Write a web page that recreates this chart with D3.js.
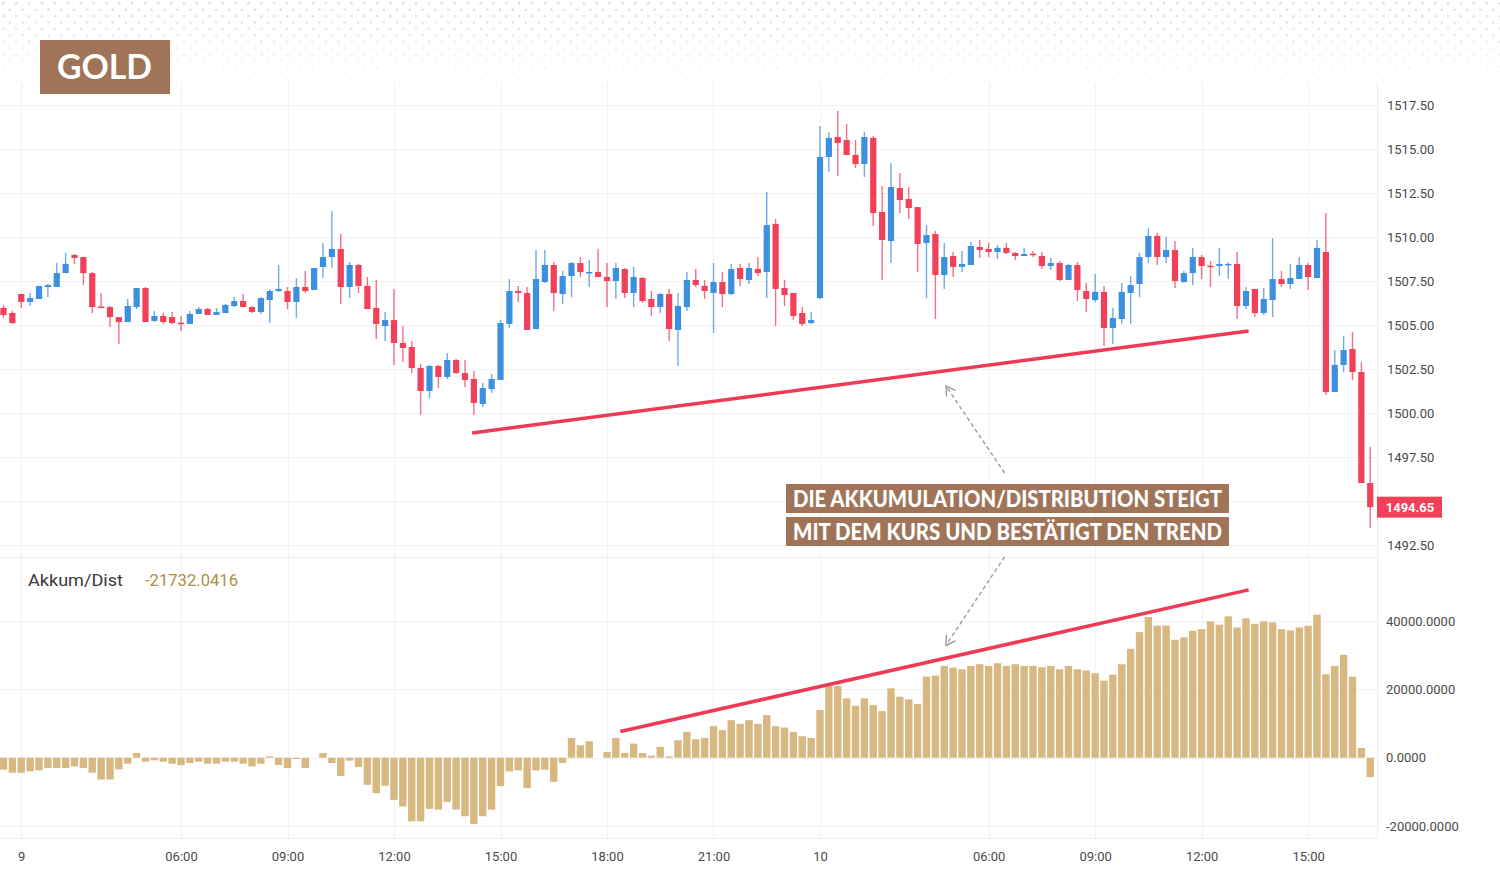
<!DOCTYPE html>
<html>
<head>
<meta charset="utf-8">
<script src="https://cdn.jsdelivr.net/npm/d3@7"></script>
<style>
  body { margin: 0; background: #fff; }
  svg { display: block; font-family: Roboto, "Noto Sans", sans-serif; }
</style>
</head>
<body>
<script>
var width = 1500
var height = 880

// 15 minute candles
var opens = [
  1505.97, 1505.68, 1506.76, 1506.31, 1506.48, 1507.16, 1507.16, 1507.95, 1508.98, 1508.86,
  1507.95, 1506.05, 1506.02, 1505.45, 1505.17, 1506.02, 1507.10, 1505.23, 1505.51, 1505.45,
  1505.13, 1505.06, 1505.63, 1505.91, 1505.57, 1505.68, 1506.08, 1506.36, 1506.02, 1505.74,
  1506.42, 1506.93, 1506.93, 1506.31, 1507.16, 1506.99, 1508.30, 1508.86, 1509.32, 1507.16,
  1508.41, 1507.22, 1505.97, 1504.94, 1505.28, 1503.98, 1503.75, 1502.56, 1501.25, 1502.67,
  1502.05, 1503.01, 1502.27, 1501.93, 1500.51, 1501.36, 1501.88, 1505.06, 1506.93, 1506.82,
  1504.77, 1507.44, 1508.41, 1506.76, 1507.78, 1508.52, 1507.99, 1508.01, 1507.73, 1507.50,
  1508.18, 1506.82, 1507.67, 1506.48, 1506.02, 1506.76, 1504.72, 1506.02, 1507.56, 1507.22,
  1506.82, 1507.44, 1506.76, 1508.24, 1507.56, 1508.18, 1508.01, 1510.74, 1507.10, 1506.82,
  1505.68, 1505.11, 1506.53, 1514.55, 1515.68, 1515.51, 1514.66, 1514.15, 1515.63, 1511.42,
  1509.77, 1512.78, 1512.16, 1511.70, 1509.66, 1510.17, 1507.84, 1508.92, 1508.30, 1508.41,
  1509.43, 1509.32, 1509.15, 1509.38, 1509.09, 1508.92, 1509.05, 1508.92, 1508.35, 1508.52,
  1507.56, 1508.41, 1506.93, 1506.42, 1506.88, 1504.83, 1505.34, 1506.82, 1507.33, 1508.86,
  1510.06, 1508.86, 1509.26, 1507.44, 1507.95, 1508.86, 1508.37, 1508.35, 1508.45, 1508.47,
  1506.08, 1507.05, 1505.68, 1506.42, 1507.61, 1507.33, 1507.61, 1508.41, 1507.67, 1509.15,
  1501.19, 1502.73, 1503.64, 1502.33, 1496.02]
var highs = [
  1506.14, 1505.80, 1506.76, 1506.82, 1507.22, 1507.33, 1508.52, 1509.09, 1509.03, 1508.86,
  1508.01, 1506.82, 1506.08, 1505.45, 1506.48, 1507.10, 1507.16, 1505.80, 1505.68, 1505.74,
  1505.51, 1505.80, 1506.02, 1505.97, 1505.97, 1506.19, 1506.59, 1506.76, 1506.08, 1506.59,
  1507.05, 1508.41, 1507.16, 1507.67, 1508.07, 1508.24, 1509.66, 1511.48, 1510.17, 1508.58,
  1508.47, 1507.73, 1507.56, 1505.74, 1507.05, 1504.94, 1504.09, 1502.78, 1502.73, 1502.73,
  1503.41, 1503.07, 1503.01, 1502.39, 1501.70, 1502.22, 1505.28, 1507.61, 1507.22, 1507.16,
  1509.26, 1509.26, 1508.58, 1508.07, 1508.58, 1508.86, 1508.69, 1509.32, 1508.52, 1508.52,
  1508.24, 1508.30, 1507.73, 1506.93, 1506.82, 1507.05, 1506.82, 1508.01, 1508.18, 1507.56,
  1508.52, 1508.01, 1508.47, 1508.47, 1508.52, 1508.86, 1512.56, 1511.02, 1507.56, 1506.82,
  1506.02, 1505.74, 1516.31, 1515.97, 1517.16, 1516.42, 1515.51, 1515.97, 1515.74, 1512.90,
  1514.20, 1513.64, 1512.84, 1511.70, 1510.68, 1510.34, 1509.66, 1509.15, 1509.20, 1509.72,
  1509.83, 1509.66, 1509.55, 1509.66, 1509.15, 1509.38, 1509.20, 1509.15, 1508.81, 1508.64,
  1508.47, 1508.58, 1507.39, 1507.90, 1507.22, 1505.97, 1507.39, 1507.78, 1509.09, 1510.51,
  1510.23, 1510.00, 1509.77, 1508.07, 1509.38, 1508.98, 1508.64, 1509.38, 1508.58, 1509.15,
  1507.16, 1507.05, 1507.10, 1509.94, 1508.07, 1508.47, 1508.86, 1508.52, 1509.83, 1511.36,
  1503.58, 1504.38, 1504.60, 1502.90, 1498.07]
var lows = [
  1505.40, 1505.06, 1505.97, 1506.08, 1506.48, 1506.59, 1507.16, 1507.95, 1508.47, 1507.27,
  1505.68, 1506.02, 1504.89, 1503.92, 1505.17, 1505.91, 1505.17, 1505.17, 1505.06, 1505.06,
  1504.66, 1505.06, 1505.63, 1505.57, 1505.57, 1505.68, 1506.02, 1506.02, 1505.68, 1505.63,
  1505.11, 1506.88, 1505.91, 1505.40, 1506.82, 1506.99, 1507.67, 1508.24, 1506.19, 1506.53,
  1506.82, 1505.91, 1504.20, 1504.09, 1502.73, 1502.90, 1502.27, 1499.89, 1500.85, 1501.42,
  1501.93, 1502.22, 1501.48, 1499.89, 1500.34, 1501.14, 1501.88, 1504.83, 1506.31, 1504.72,
  1504.77, 1507.39, 1505.80, 1506.19, 1506.59, 1507.73, 1507.16, 1507.73, 1506.02, 1506.48,
  1506.53, 1506.02, 1506.25, 1505.51, 1505.68, 1504.09, 1502.67, 1505.80, 1507.16, 1506.48,
  1504.55, 1506.02, 1506.70, 1507.22, 1507.33, 1507.78, 1506.53, 1504.94, 1506.08, 1505.28,
  1504.94, 1505.06, 1506.48, 1513.69, 1513.47, 1514.66, 1513.92, 1513.41, 1510.63, 1507.56,
  1508.52, 1511.36, 1511.02, 1508.01, 1506.53, 1505.34, 1507.05, 1507.73, 1508.01, 1508.41,
  1508.81, 1508.86, 1508.75, 1509.03, 1508.69, 1508.92, 1508.86, 1508.18, 1508.13, 1507.50,
  1507.56, 1506.36, 1505.74, 1506.31, 1503.81, 1503.92, 1505.06, 1505.06, 1506.59, 1508.52,
  1508.41, 1508.52, 1507.10, 1507.39, 1507.27, 1507.61, 1507.16, 1507.78, 1507.61, 1505.34,
  1505.91, 1505.45, 1505.57, 1505.45, 1507.16, 1507.05, 1507.61, 1506.99, 1507.67, 1501.02,
  1501.19, 1502.33, 1501.88, 1496.02, 1493.47]
var closes = [
  1505.57, 1505.11, 1506.31, 1506.53, 1507.22, 1507.27, 1507.95, 1508.47, 1508.81, 1507.95,
  1506.02, 1506.02, 1505.45, 1505.17, 1506.08, 1507.10, 1505.17, 1505.51, 1505.17, 1505.11,
  1505.11, 1505.63, 1505.91, 1505.57, 1505.74, 1506.14, 1506.36, 1506.02, 1505.74, 1506.53,
  1506.93, 1507.05, 1506.31, 1507.16, 1506.93, 1508.24, 1508.86, 1509.32, 1507.16, 1508.41,
  1507.22, 1505.91, 1505.06, 1505.28, 1503.98, 1503.69, 1502.56, 1501.25, 1502.67, 1502.05,
  1503.01, 1502.27, 1501.88, 1500.57, 1501.42, 1501.93, 1505.11, 1506.93, 1506.82, 1504.72,
  1507.61, 1508.41, 1506.82, 1507.78, 1508.52, 1508.01, 1508.01, 1507.73, 1507.50, 1508.24,
  1506.82, 1507.73, 1506.36, 1506.02, 1506.76, 1504.77, 1506.08, 1507.56, 1507.27, 1506.93,
  1507.44, 1506.76, 1508.18, 1507.61, 1508.24, 1507.95, 1510.68, 1507.05, 1506.70, 1505.51,
  1505.06, 1505.28, 1514.55, 1515.63, 1515.34, 1514.66, 1514.15, 1515.68, 1511.36, 1509.83,
  1512.84, 1512.10, 1511.65, 1509.60, 1510.11, 1507.84, 1508.86, 1508.30, 1508.47, 1509.49,
  1509.26, 1509.15, 1509.38, 1509.09, 1508.92, 1509.03, 1509.03, 1508.35, 1508.52, 1507.56,
  1508.41, 1506.99, 1506.48, 1506.88, 1504.83, 1505.40, 1506.88, 1507.27, 1508.86, 1510.06,
  1508.86, 1509.26, 1507.50, 1507.95, 1508.86, 1508.35, 1508.35, 1508.47, 1508.47, 1506.08,
  1506.93, 1505.68, 1506.48, 1507.61, 1507.33, 1507.67, 1508.41, 1507.73, 1509.38, 1501.19,
  1502.73, 1503.58, 1502.33, 1496.02, 1494.65]

// Akkumulation/Distribution histogram
var adValues = [
  -3530, -4410, -4410, -4020, -3720, -3040, -3040, -3040, -2550, -3040,
  -4410, -6370, -6370, -3430, -1760, 1370, -1180, -780, -1180, -1760,
  -2160, -1570, -1180, -1760, -1760, -1180, -1180, -1760, -2550, -1760,
  390, -2160, -3040, -390, -3040, 0, 1370, -1570, -5390, -880,
  -2740, -7940, -10390, -8230, -12350, -14310, -18620, -18620, -14990, -15190,
  -12940, -15190, -17150, -19400, -17150, -15190, -8330, -4020, -3720, -8920,
  -3720, -3530, -7060, -1570, 5780, 3630, 4800, 0, 1670, 5780,
  1370, 4120, 1370, 590, 3140, 390, 5100, 7550, 5390, 5780,
  9210, 8040, 10980, 9900, 10980, 9900, 12450, 9210, 8820, 7550,
  6270, 5780, 13920, 20970, 20970, 17350, 15190, 17350, 15390, 13620,
  20290, 17840, 17050, 15680, 23720, 24010, 26850, 26360, 25870, 26850,
  27340, 26850, 27640, 26850, 27340, 26850, 26850, 26460, 26850, 25870,
  26850, 25870, 25480, 24700, 22540, 24300, 27340, 31850, 36750, 41160,
  38610, 38610, 34500, 35180, 37140, 37630, 39890, 38910, 41360, 38120,
  40770, 39200, 39890, 39590, 37630, 37240, 38120, 38610, 41850, 24400,
  26850, 30090, 23720, 2840, -5680]

var xTickIndex = [2, 20, 32, 44, 56, 68, 80, 92, 111, 123, 135, 147]
var xTickLabels = ["9", "06:00", "09:00", "12:00", "15:00", "18:00", "21:00", "10", "06:00", "09:00", "12:00", "15:00"]
var priceTicks = [1492.5, 1495, 1497.5, 1500, 1502.5, 1505, 1507.5, 1510, 1512.5, 1515, 1517.5]
var adTicks = [-20000, 0, 20000, 40000]
var lastPrice = 1494.65
var adLegend = "-21732.0416"

// trend lines drawn on the chart: [bar index, value]
var priceTrend = [[52.8, 1498.86], [140.3, 1504.66]]
var adTrend = [[69.5, 7650], [140.3, 49100]]
// dashed pointers from the caption
var arrowUp = [[112.8, 1496.59], [106.2, 1501.53]]
var arrowDown = [[112.8, 58800], [106.2, 32900]]

var upColor = "#3d8fe0"
var downColor = "#f1405a"
var adColor = "#d7b880"
var brown = "#a07458"

var plotRight = 1377
var priceTop = 83, priceBottom = 557
var adTop = 557, adBottom = 838

var svg = d3.select("body").append("svg")
    .attr("width", width)
    .attr("height", height);

var x = d3.scaleLinear().domain([0, 154]).range([3.5, 1370.25]);
var yPrice = d3.scaleLinear().domain([1492.5, 1517.5]).range([545, 105]);
var yAd = d3.scaleLinear().domain([-20000, 40000]).range([826, 621]);

//dotted header
var defs = svg.append("defs");
var pat = defs.append("pattern")
    .attr("id", "dots")
    .attr("patternUnits", "userSpaceOnUse")
    .attr("width", 12.9).attr("height", 12.8);
pat.append("circle").attr("cx", 3.3).attr("cy", 3.3).attr("r", 1.15).attr("fill", "#cfcfcf");
pat.append("circle").attr("cx", 9.75).attr("cy", 9.7).attr("r", 1.15).attr("fill", "#cfcfcf");

var grad = defs.append("linearGradient")
    .attr("id", "fade").attr("x1", 0).attr("y1", 0).attr("x2", 0).attr("y2", 1);
grad.append("stop").attr("offset", "0%").attr("stop-color", "#fff").attr("stop-opacity", 1);
grad.append("stop").attr("offset", "100%").attr("stop-color", "#fff").attr("stop-opacity", 0);
defs.append("mask").attr("id", "fadeMask")
    .attr("maskContentUnits", "userSpaceOnUse")
  .append("rect")
    .attr("x", 0).attr("y", 0).attr("width", width).attr("height", 92)
    .attr("fill", "url(#fade)");

svg.append("rect")
    .attr("x", 0).attr("y", 0).attr("width", width).attr("height", 92)
    .attr("fill", "url(#dots)")
    .attr("mask", "url(#fadeMask)");

// markers for the pointers
defs.append("marker")
    .attr("id", "chevron")
    .attr("viewBox", "-10 -6 12 12")
    .attr("refX", 0).attr("refY", 0)
    .attr("markerWidth", 12).attr("markerHeight", 12)
    .attr("markerUnits", "userSpaceOnUse")
    .attr("orient", "auto")
  .append("path")
    .attr("d", "M-9,-5.5L0,0L-9,5.5")
    .attr("fill", "none")
    .attr("stroke", "#9a9a9a")
    .attr("stroke-width", 1.4);

// grid
var grid = svg.append("g").attr("stroke", "#f1f1f1").attr("stroke-width", 1);
grid.selectAll(".hp").data(priceTicks).enter().append("line")
    .attr("x1", 0).attr("x2", plotRight)
    .attr("y1", function(d) { return Math.round(yPrice(d)) + 0.5; })
    .attr("y2", function(d) { return Math.round(yPrice(d)) + 0.5; });
grid.selectAll(".ha").data(adTicks).enter().append("line")
    .attr("x1", 0).attr("x2", plotRight)
    .attr("y1", function(d) { return Math.round(yAd(d)) + 0.5; })
    .attr("y2", function(d) { return Math.round(yAd(d)) + 0.5; });
grid.selectAll(".v").data(xTickIndex).enter().append("line")
    .attr("x1", function(d) { return Math.round(x(d)) + 0.5; })
    .attr("x2", function(d) { return Math.round(x(d)) + 0.5; })
    .attr("y1", priceTop).attr("y2", adBottom);

svg.append("line")
    .attr("x1", 0).attr("x2", plotRight).attr("y1", adTop + 0.5).attr("y2", adTop + 0.5)
    .attr("stroke", "#ececec");
svg.append("line")
    .attr("x1", 0).attr("x2", plotRight).attr("y1", adBottom + 0.5).attr("y2", adBottom + 0.5)
    .attr("stroke", "#ececec");
svg.append("line")
    .attr("x1", plotRight + 0.5).attr("x2", plotRight + 0.5).attr("y1", priceTop).attr("y2", adBottom)
    .attr("stroke", "#ececec");

// candles
var candles = d3.range(opens.length).map(function(i) {
  return {i: i, o: opens[i], h: highs[i], l: lows[i], c: closes[i]};
});

var candle = svg.append("g").attr("class", "candles")
    .selectAll("g")
    .data(candles)
    .enter().append("g");

candle.append("line")
    .attr("x1", function(d) { return x(d.i); })
    .attr("x2", function(d) { return x(d.i); })
    .attr("y1", function(d) { return yPrice(d.h); })
    .attr("y2", function(d) { return yPrice(d.l); })
    .attr("stroke", function(d) { return d.c >= d.o ? upColor : downColor; })
    .attr("stroke-opacity", 0.75)
    .attr("stroke-width", 1.4);

candle.append("rect")
    .attr("x", function(d) { return x(d.i) - 3.1; })
    .attr("width", 6.2)
    .attr("y", function(d) { return yPrice(Math.max(d.o, d.c)); })
    .attr("height", function(d) { return Math.max(1.5, Math.abs(yPrice(d.o) - yPrice(d.c))); })
    .attr("fill", function(d) { return d.c >= d.o ? upColor : downColor; });

// A/D histogram
svg.append("g").attr("class", "ad")
    .selectAll("rect")
    .data(adValues)
    .enter().append("rect")
    .attr("x", function(d, i) { return x(i) - 3.7; })
    .attr("width", 7.4)
    .attr("y", function(d) { return Math.min(yAd(d), yAd(0)); })
    .attr("height", function(d) { return Math.abs(yAd(d) - yAd(0)); })
    .attr("fill", adColor);

// trend lines
var line = function(scaleY) {
  return d3.line().x(function(d) { return x(d[0]); }).y(function(d) { return scaleY(d[1]); });
};
svg.append("path").datum(priceTrend)
    .attr("d", line(yPrice))
    .attr("stroke", "#ee3a55").attr("stroke-width", 3.5).attr("fill", "none");
svg.append("path").datum(adTrend)
    .attr("d", line(yAd))
    .attr("stroke", "#ee3a55").attr("stroke-width", 3.5).attr("fill", "none");

// pointers
svg.append("path").datum(arrowUp)
    .attr("d", line(yPrice))
    .attr("stroke", "#9a9a9a").attr("stroke-width", 1.4).attr("stroke-dasharray", "4,3")
    .attr("fill", "none").attr("marker-end", "url(#chevron)");
svg.append("path").datum(arrowDown)
    .attr("d", line(yAd))
    .attr("stroke", "#9a9a9a").attr("stroke-width", 1.4).attr("stroke-dasharray", "4,3")
    .attr("fill", "none").attr("marker-end", "url(#chevron)");

// caption
var caption = ["DIE AKKUMULATION/DISTRIBUTION STEIGT", "MIT DEM KURS UND BESTÄTIGT DEN TREND"];
var capG = svg.append("g").selectAll("g").data(caption).enter().append("g")
    .attr("transform", function(d, i) { return "translate(786," + (484 + i * 33) + ")"; });
capG.append("rect")
    .attr("width", 443).attr("height", 29).attr("fill", brown);
capG.append("text")
    .attr("x", 7).attr("y", 22.5)
    .attr("textLength", 429).attr("lengthAdjust", "spacingAndGlyphs")
    .attr("fill", "#fff")
    .style("font-family", "Lato, 'Noto Sans', sans-serif")
    .style("font-weight", 900)
    .style("font-size", "22px")
    .text(function(d) { return d; });

// GOLD tag
svg.append("rect").attr("x", 40).attr("y", 40).attr("width", 130).attr("height", 54).attr("fill", brown);
svg.append("text")
    .attr("x", 57).attr("y", 78.5)
    .attr("textLength", 95).attr("lengthAdjust", "spacingAndGlyphs")
    .attr("fill", "#fff")
    .style("font-family", "Lato, 'Noto Sans', sans-serif")
    .style("font-weight", 700)
    .style("font-size", "34px")
    .text("GOLD");

// axes; the price label under the last price tag is hidden, as on the chart
var hyphen = function(f) { return function(d) { return f(d).replace("\u2212", "-"); }; };
var priceLabels = priceTicks.filter(function(d) { return Math.abs(yPrice(d) - yPrice(lastPrice)) > 14; });
var priceAxis = svg.append("g")
    .attr("transform", "translate(" + plotRight + ",0)")
    .call(d3.axisRight(yPrice).tickValues(priceLabels).tickFormat(d3.format(".2f")).tickSize(0).tickPadding(10));
var adAxis = svg.append("g")
    .attr("transform", "translate(" + plotRight + ",0)")
    .call(d3.axisRight(yAd).tickValues(adTicks).tickFormat(hyphen(d3.format(".4f"))).tickSize(0).tickPadding(9));
var timeAxis = svg.append("g")
    .attr("transform", "translate(0," + (adBottom + 9) + ")")
    .call(d3.axisBottom(x).tickValues(xTickIndex).tickFormat(function(d, i) { return xTickLabels[i]; }).tickSize(0).tickPadding(5));

[priceAxis, adAxis, timeAxis].forEach(function(a) {
  a.select(".domain").remove();
  a.selectAll("text")
      .attr("fill", "#4a4a4a")
      .style("font-family", "Roboto, sans-serif")
      .style("font-size", "13px");
});

// last price tag
svg.append("rect")
    .attr("x", plotRight).attr("y", yPrice(lastPrice) - 10.5)
    .attr("width", 65).attr("height", 21)
    .attr("fill", "#f1405a");
svg.append("text")
    .attr("x", plotRight + 33).attr("y", yPrice(lastPrice) + 4.5)
    .attr("text-anchor", "middle")
    .attr("fill", "#fff")
    .style("font-size", "13px")
    .style("font-weight", 700)
    .text(d3.format(".2f")(lastPrice));

// legend
svg.append("text")
    .attr("x", 28).attr("y", 586)
    .attr("textLength", 95).attr("lengthAdjust", "spacingAndGlyphs")
    .attr("fill", "#3a3a3a")
    .style("font-size", "16.5px")
    .text("Akkum/Dist");
svg.append("text")
    .attr("x", 145).attr("y", 586)
    .attr("textLength", 93).attr("lengthAdjust", "spacingAndGlyphs")
    .attr("fill", "#b58c3e")
    .style("font-size", "16.5px")
    .text(adLegend);
</script>
</body>
</html>
